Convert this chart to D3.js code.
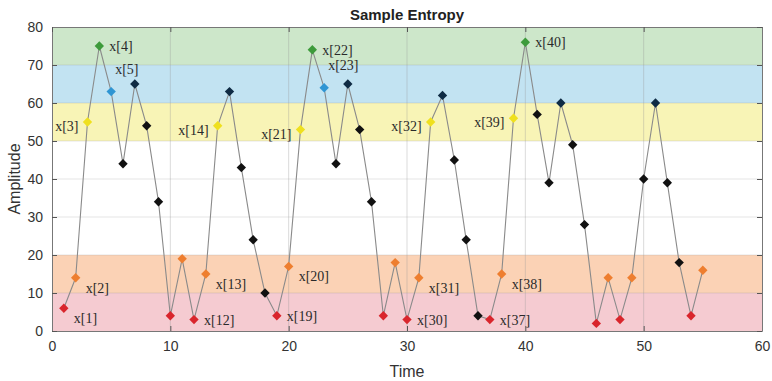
<!DOCTYPE html>
<html>
<head>
<meta charset="utf-8">
<script src="https://cdn.jsdelivr.net/npm/d3@7"></script>
<style>
  body { margin: 0; background: #fff; }
  svg { display: block; }
  .tick text { font-family: "Liberation Sans", Arial, sans-serif; font-size: 14px; fill: #333; }
</style>
</head>
<body>
<svg id="chart" width="772" height="381"></svg>
<script>
// sample values, one per time step (t = 1..55)
const amplitudes = [
  6, 14, 55, 75, 63, 44, 65, 54, 34, 4,
  19, 3, 15, 54, 63, 43, 24, 10, 4, 17,
  53, 74, 64, 44, 65, 53, 34, 4, 18, 3,
  14, 55, 62, 45, 24, 4, 3, 15, 56, 76,
  57, 39, 60, 49, 28, 2, 14, 3, 14, 40,
  60, 39, 18, 4, 16,
];
// marker colour group of every point
const markerGroups = [
  "r", "o", "y", "g", "b", "k", "n", "k", "k", "r",
  "o", "r", "o", "y", "n", "k", "k", "k", "r", "o",
  "y", "g", "b", "k", "n", "k", "k", "r", "o", "r",
  "o", "y", "n", "k", "k", "k", "r", "o", "y", "g",
  "k", "k", "n", "k", "k", "r", "o", "r", "o", "k",
  "n", "k", "k", "r", "o",
];
// labelled points and which side the label sits on
const labelIndex = [1, 2, 3, 4, 5, 12, 13, 14, 19, 20, 21, 22, 23, 30, 31, 32, 37, 38, 39, 40];
const labelSide = ["rb", "rb", "l", "r", "ra", "r", "rb", "l", "r", "rb", "l", "r", "ra", "r", "rb", "l", "r", "rb", "l", "r"];

const bandLimits = [[0, 10], [10, 20], [50, 60], [60, 70], [70, 80]];
const bandColors = ["#f5cbd1", "#fbd2b5", "#f8f4b6", "#c2e3f2", "#cde7ca"];
const groupColors = {
  r: "#d9252c", o: "#ee7e2f", y: "#efe01e", g: "#3d9b3b",
  b: "#2f95d3", n: "#0f2b44", k: "#111111",
};

const xTicks = [0, 10, 20, 30, 40, 50, 60];
const yTicks = [0, 10, 20, 30, 40, 50, 60, 70, 80];

const svg = d3.select("#chart");
const margin = { top: 27, right: 10, bottom: 50, left: 52 };
const width = 772 - margin.left - margin.right;
const height = 381 - margin.top - margin.bottom;

const x = d3.scaleLinear().domain([0, 60]).range([0, width]);
const y = d3.scaleLinear().domain([0, 80]).range([height, 0]);

const g = svg.append("g").attr("transform", `translate(${margin.left},${margin.top})`);

// coloured bands
g.selectAll("rect.band")
  .data(bandLimits)
  .enter()
  .append("rect")
  .attr("class", "band")
  .attr("x", 0)
  .attr("width", width)
  .attr("y", (d) => y(d[1]))
  .attr("height", (d) => y(d[0]) - y(d[1]))
  .attr("fill", (d, i) => bandColors[i]);

// grid
g.selectAll("line.gx")
  .data(xTicks.slice(1, -1))
  .enter()
  .append("line")
  .attr("x1", (d) => x(d)).attr("x2", (d) => x(d))
  .attr("y1", 0).attr("y2", height)
  .attr("stroke", "#999").attr("stroke-opacity", 0.35);
g.selectAll("line.gy")
  .data(yTicks.slice(1, -1))
  .enter()
  .append("line")
  .attr("y1", (d) => y(d)).attr("y2", (d) => y(d))
  .attr("x1", 0).attr("x2", width)
  .attr("stroke", "#999").attr("stroke-opacity", 0.25);

// axes (inward ticks, MATLAB style)
const xAxis = d3.axisBottom(x).tickValues(xTicks).tickSizeInner(-5).tickSizeOuter(0).tickPadding(10);
const yAxis = d3.axisLeft(y).tickValues(yTicks).tickSizeInner(-5).tickSizeOuter(0).tickPadding(9);
g.append("g").attr("transform", `translate(0,${height})`).call(xAxis);
g.append("g").call(yAxis);
g.append("g").attr("transform", `translate(0,0)`).call(d3.axisTop(x).tickValues(xTicks).tickSizeInner(-5).tickSizeOuter(0).tickFormat(""));
g.append("g").attr("transform", `translate(${width},0)`).call(d3.axisRight(y).tickValues(yTicks).tickSizeInner(-5).tickSizeOuter(0).tickFormat(""));
g.selectAll(".domain").attr("stroke", "#777");
g.selectAll(".tick line").attr("stroke", "#555");

// series line
const data = amplitudes.map((v, i) => ({ t: i + 1, v, grp: markerGroups[i] }));
const line = d3.line().x((d) => x(d.t)).y((d) => y(d.v));
g.append("path")
  .datum(data)
  .attr("d", line)
  .attr("fill", "none")
  .attr("stroke", "#8a8a8a")
  .attr("stroke-width", 1.1);

// diamond markers
const diamond = d3.symbol().type(d3.symbolDiamond2).size(56);
g.selectAll("path.pt")
  .data(data)
  .enter()
  .append("path")
  .attr("class", "pt")
  .attr("d", diamond)
  .attr("transform", (d) => `translate(${x(d.t)},${y(d.v)})`)
  .attr("fill", (d) => groupColors[d.grp]);

// point labels
const offsets = { r: [10, 5], rb: [10, 15], l: [-9, 9], ra: [4, -18] };
g.selectAll("text.lbl")
  .data(labelIndex)
  .enter()
  .append("text")
  .attr("class", "lbl")
  .attr("x", (d, i) => x(d) + offsets[labelSide[i]][0])
  .attr("y", (d, i) => y(amplitudes[d - 1]) + offsets[labelSide[i]][1])
  .attr("text-anchor", (d, i) => (labelSide[i] === "l" ? "end" : "start"))
  .attr("font-family", "'Liberation Serif', 'Times New Roman', serif")
  .attr("font-size", 14)
  .attr("fill", "#2a2a2a")
  .text((d) => `x[${d}]`);

// titles
svg.append("text")
  .attr("x", margin.left + width / 2)
  .attr("y", 20)
  .attr("text-anchor", "middle")
  .attr("font-family", "'Liberation Sans', Arial, sans-serif")
  .attr("font-size", 15)
  .attr("font-weight", "bold")
  .attr("fill", "#222")
  .text("Sample Entropy");
svg.append("text")
  .attr("x", margin.left + width / 2)
  .attr("y", 377)
  .attr("text-anchor", "middle")
  .attr("font-family", "'Liberation Sans', Arial, sans-serif")
  .attr("font-size", 16)
  .attr("fill", "#333")
  .text("Time");
svg.append("text")
  .attr("transform", `translate(20,${margin.top + height / 2}) rotate(-90)`)
  .attr("text-anchor", "middle")
  .attr("font-family", "'Liberation Sans', Arial, sans-serif")
  .attr("font-size", 16)
  .attr("fill", "#333")
  .text("Amplitude");
</script>
</body>
</html>
